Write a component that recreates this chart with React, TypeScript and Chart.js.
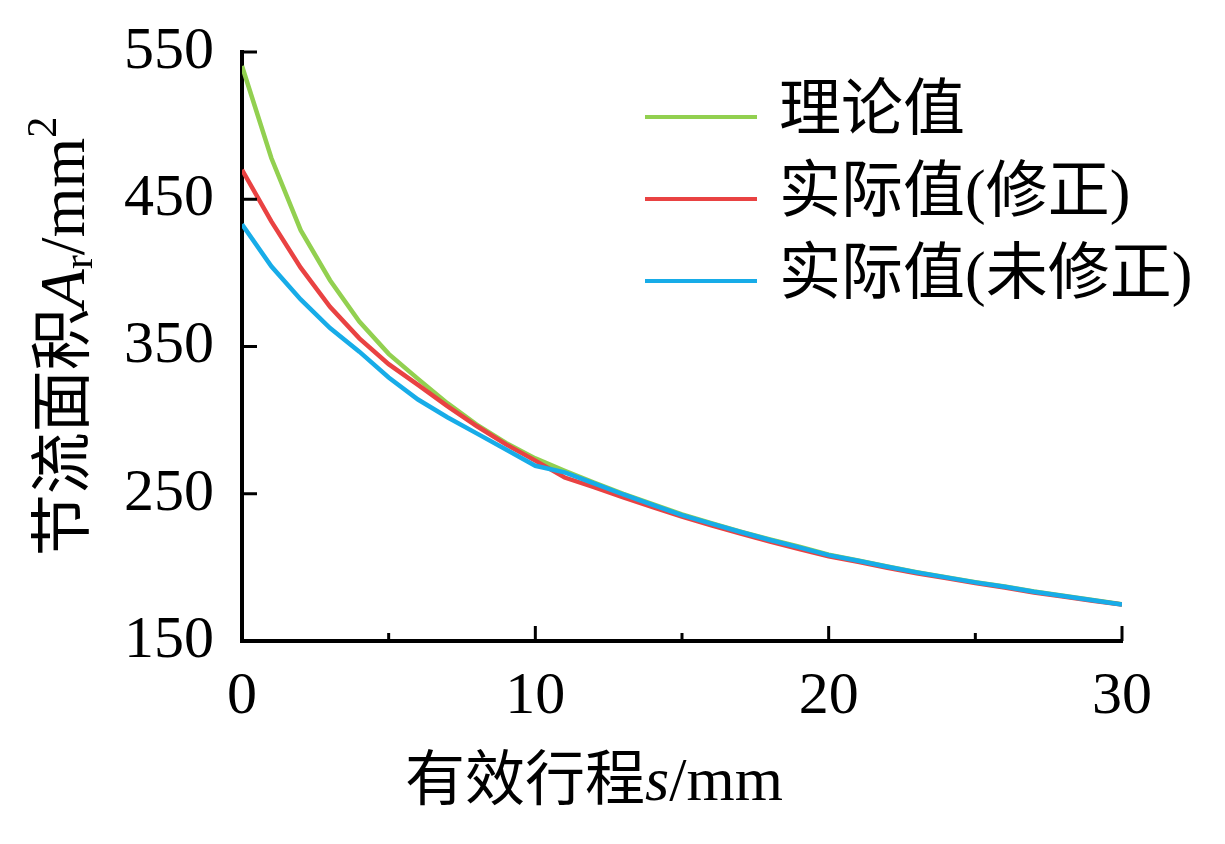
import React, { useEffect, useRef } from "react";
import { Chart, registerables } from "chart.js";

Chart.register(...registerables);

// effective stroke s (mm)
const strokeMm = [0, 1, 2, 3, 4, 5, 6, 7, 8, 9, 10, 11, 12, 13, 14, 15, 16, 17, 18, 19, 20, 21, 22, 23, 24, 25, 26, 27, 28, 29, 30];

// throttling area A_r (mm^2)
const theoretical = [540.5, 478, 429, 395, 367, 345, 328, 311.5, 297, 284.5, 274, 265.5, 257.5, 250, 243, 236, 230, 224.3, 219, 214, 208.6, 204.7, 200.6, 196.8, 193.4, 190, 187, 183.6, 180.8, 177.9, 175];
const corrected = [470, 435, 403.5, 377, 355.5, 338, 324, 309.5, 296, 283.5, 272.5, 261, 254.5, 247.5, 241, 234.5, 228.5, 223, 217.5, 212.5, 207.5, 203.8, 199.8, 196, 192.7, 189.3, 186.3, 183, 180.2, 177.4, 174.8];
const uncorrected = [433, 404.5, 382, 362.5, 346.5, 329, 314, 302, 291, 280, 269, 264.5, 257, 249.5, 242.5, 235.5, 229.7, 224, 218.6, 213.6, 208.3, 204.5, 200.4, 196.6, 193.2, 189.8, 186.8, 183.4, 180.6, 177.7, 174.8];

const seriesNames = ["理论值", "实际值(修正)", "实际值(未修正)"];
const seriesColors = ["#92D050", "#E94242", "#17ACE8"];

const xLabelValues = [0, 10, 20, 30];
const yLabelValues = [150, 250, 350, 450, 550];

const SERIF = '"Liberation Serif", "Times New Roman", serif';
const MIXED = '"Liberation Serif", "Noto Sans CJK SC", serif';

// inward major/minor ticks
const inwardTicks = {
  id: "inwardTicks",
  afterDraw(chart: any) {
    const { ctx, chartArea, scales } = chart;
    ctx.save();
    ctx.strokeStyle = "#000";
    ctx.lineWidth = 3;
    scales.x.ticks.forEach((t: any) => {
      const px = scales.x.getPixelForValue(t.value);
      const len = xLabelValues.includes(t.value) ? 15 : 8;
      ctx.beginPath();
      ctx.moveTo(px, chartArea.bottom);
      ctx.lineTo(px, chartArea.bottom - len);
      ctx.stroke();
    });
    scales.y.ticks.forEach((t: any) => {
      const py = scales.y.getPixelForValue(t.value);
      const len = yLabelValues.includes(t.value) ? 15 : 8;
      ctx.beginPath();
      ctx.moveTo(chartArea.left, py);
      ctx.lineTo(chartArea.left + len, py);
      ctx.stroke();
    });
    ctx.restore();
  },
};

// legend inside the plot, top right
const innerLegend = {
  id: "innerLegend",
  afterDraw(chart: any) {
    const { ctx, chartArea } = chart;
    const x0 = chartArea.left + 403;
    const y0 = chartArea.top + 65;
    ctx.save();
    ctx.font = `62px ${MIXED}`;
    ctx.textBaseline = "middle";
    ctx.textAlign = "left";
    chart.data.datasets.forEach((ds: any, i: number) => {
      const y = y0 + i * 82;
      ctx.strokeStyle = ds.borderColor;
      ctx.lineWidth = 4;
      ctx.beginPath();
      ctx.moveTo(x0, y);
      ctx.lineTo(x0 + 112, y);
      ctx.stroke();
      ctx.fillStyle = "#000";
      ctx.fillText(ds.label, x0 + 134, y - 3);
    });
    ctx.restore();
  },
};

type Piece = { text: string; font: string; dy: number };

function drawPieces(ctx: CanvasRenderingContext2D, pieces: Piece[], cx: number, baseY: number) {
  let total = 0;
  pieces.forEach(p => {
    ctx.font = p.font;
    total += ctx.measureText(p.text).width;
  });
  let x = cx - total / 2;
  pieces.forEach(p => {
    ctx.font = p.font;
    ctx.fillText(p.text, x, baseY + p.dy);
    x += ctx.measureText(p.text).width;
  });
}

// axis titles with italic / sub / superscript parts
const axisTitles = {
  id: "axisTitles",
  afterDraw(chart: any) {
    const { ctx, chartArea } = chart;
    ctx.save();
    ctx.fillStyle = "#000";
    ctx.textBaseline = "alphabetic";
    ctx.textAlign = "left";

    drawPieces(ctx, [
      { text: "有效行程", font: `60px "Noto Sans CJK SC", sans-serif`, dy: 0 },
      { text: "s", font: `italic 62px ${SERIF}`, dy: 0 },
      { text: "/mm", font: `62px ${SERIF}`, dy: 0 },
    ], chartArea.left + 352, chartArea.bottom + 159);

    ctx.translate(84, (chartArea.top + chartArea.bottom) / 2 - 10);
    ctx.rotate(-Math.PI / 2);
    drawPieces(ctx, [
      { text: "节流面积", font: `62px "Noto Sans CJK SC", sans-serif`, dy: 0 },
      { text: "A", font: `italic 64px ${SERIF}`, dy: 0 },
      { text: "r", font: `42px ${SERIF}`, dy: 8 },
      { text: "/mm", font: `64px ${SERIF}`, dy: 0 },
      { text: "2", font: `42px ${SERIF}`, dy: -28 },
    ], 0, 0);
    ctx.restore();
  },
};

export default function App() {
  const canvasRef = useRef<HTMLCanvasElement | null>(null);
  const chartRef = useRef<Chart | null>(null);

  useEffect(() => {
    if (!canvasRef.current) return;
    if (chartRef.current) chartRef.current.destroy();

    const toPoints = (vals: number[]) => strokeMm.map((s, i) => ({ x: s, y: vals[i] }));
    const seriesValues = [theoretical, corrected, uncorrected];

    chartRef.current = new Chart(canvasRef.current, {
      type: "line",
      data: {
        datasets: seriesValues.map((vals, i) => ({
          label: seriesNames[i],
          data: toPoints(vals),
          borderColor: seriesColors[i],
          backgroundColor: seriesColors[i],
          borderWidth: 4.5,
          pointRadius: 0,
          tension: 0,
          fill: false,
          order: 2 - i,
        })),
      },
      options: {
        responsive: true,
        maintainAspectRatio: false,
        animation: false,
        layout: { padding: { left: 0, right: 103, top: 52, bottom: 0 } },
        plugins: {
          legend: { display: false },
          tooltip: { enabled: false },
        },
        scales: {
          x: {
            type: "linear",
            min: 0,
            max: 30,
            grid: { display: false, drawTicks: false },
            border: { display: true, color: "#000", width: 4 },
            ticks: {
              stepSize: 5,
              color: "#000",
              padding: 20,
              maxRotation: 0,
              font: { family: SERIF, size: 60 },
              callback: (v: any) => (xLabelValues.includes(Number(v)) ? String(v) : ""),
            },
            afterFit: (s: any) => {
              s.height = 203;
              s.paddingLeft = 0;
              s.paddingRight = 0;
            },
          },
          y: {
            min: 150,
            max: 550,
            grid: { display: false, drawTicks: false },
            border: { display: true, color: "#000", width: 4 },
            ticks: {
              stepSize: 50,
              color: "#000",
              padding: 28,
              font: { family: SERIF, size: 60 },
              callback: (v: any) => (yLabelValues.includes(Number(v)) ? String(v) : ""),
            },
            afterFit: (s: any) => {
              s.width = 242;
              s.paddingTop = 0;
              s.paddingBottom = 0;
            },
          },
        },
      },
      plugins: [inwardTicks, innerLegend, axisTitles],
    });

    return () => {
      if (chartRef.current) {
        chartRef.current.destroy();
        chartRef.current = null;
      }
    };
  }, []);

  return (
    <div style={{ position: "absolute", left: 0, top: 0, width: 1225, height: 844, background: "#fff" }}>
      <canvas ref={canvasRef} />
    </div>
  );
}
